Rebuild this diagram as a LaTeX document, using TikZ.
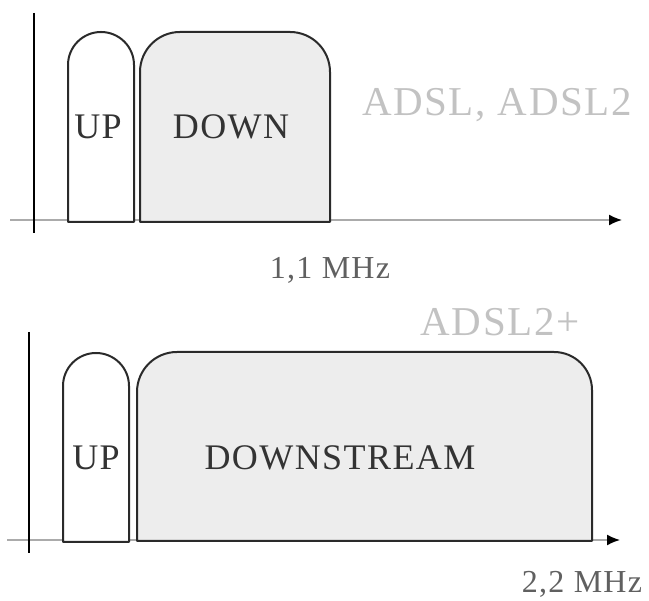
\documentclass[tikz,border=0pt]{standalone}
\usepackage{fontspec}
\setmainfont{Liberation Serif}
\newfontfamily\spacedserif[LetterSpace=4]{Liberation Serif}
\usetikzlibrary{arrows.meta}
\definecolor{boxline}{HTML}{2A2A2A}
\definecolor{boxfill}{HTML}{EDEDED}
\definecolor{axisgray}{HTML}{ABABAB}
\definecolor{faint}{HTML}{C2C2C2}
\definecolor{freqgray}{HTML}{606060}
\tikzset{
  band/.style={draw=boxline, line width=2pt, line join=round},
  upband/.style={band, fill=white},
  downband/.style={band, fill=boxfill},
  vaxis/.style={draw=black, line width=1.6pt},
  haxis/.style={draw=axisgray, line width=1.6pt, -{Latex[length=13pt,width=11pt,black]}},
  bandlabel/.style={font=\spacedserif\fontsize{36}{36}\selectfont, text=black!80, inner sep=0pt},
  stdlabel/.style={font=\spacedserif\fontsize{41}{41}\selectfont, text=faint, inner sep=0pt},
  freqlabel/.style={font=\spacedserif\fontsize{32}{32}\selectfont, text=freqgray, inner sep=0pt}
}
\begin{document}
\begin{tikzpicture}[x=1pt,y=1pt]
\useasboundingbox (0,0) rectangle (649,601);
% ---------- top diagram ----------
\coordinate (v1a) at (34,588);
\coordinate (v1b) at (34,368);
\coordinate (h1a) at (10,381);
\coordinate (h1b) at (622,381);
\draw[haxis] (h1a) -- (h1b);
\draw[upband] (68,379) -- (68,536) arc(180:0:33) -- (134,379) -- cycle;
\draw[downband] (140,379) -- (140,529) arc(180:90:40) -- (290,569) arc(90:0:40) -- (330,379) -- cycle;
\draw[vaxis] (v1a) -- (v1b);
\node[bandlabel] (up1) at (98,474) {UP};
\node[bandlabel] (down1) at (231,474) {DOWN};
\node[stdlabel] (std1) at (497,496) {ADSL, ADSL2};
\node[freqlabel] (f1) at (330,331) {1,1 MHz};
% ---------- bottom diagram ----------
\coordinate (v2a) at (29,269);
\coordinate (v2b) at (29,48);
\coordinate (h2a) at (7,61);
\coordinate (h2b) at (620,61);
\draw[haxis] (h2a) -- (h2b);
\draw[upband] (63,59) -- (63,215) arc(180:0:33) -- (129,59) -- cycle;
\draw[downband] (137,60) -- (137,209) arc(180:90:40) -- (554,249) arc(90:0:38) -- (592,60) -- cycle;
\draw[vaxis] (v2a) -- (v2b);
\node[bandlabel] (up2) at (96,143) {UP};
\node[bandlabel] (down2) at (340,143) {DOWNSTREAM};
\node[stdlabel] (std2) at (500,279) {ADSL2+};
\node[freqlabel] (f2) at (582,17) {2,2 MHz};
\end{tikzpicture}
\end{document}
